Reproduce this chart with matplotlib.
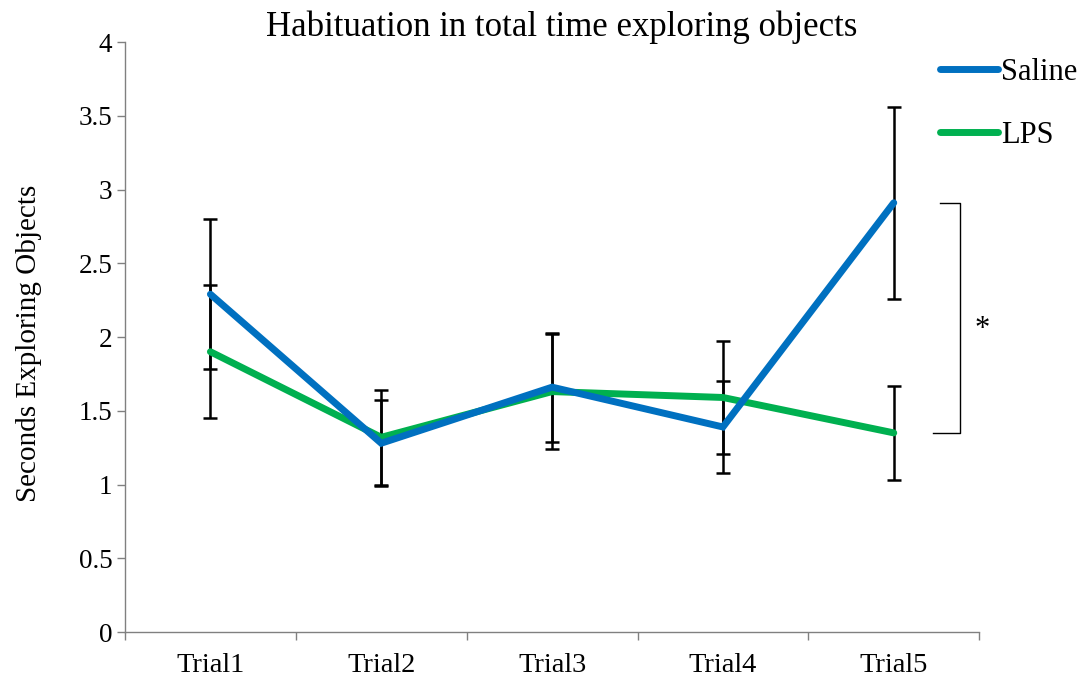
import numpy as np
import matplotlib.pyplot as plt

plt.rcParams['font.family'] = ['Liberation Serif', 'DejaVu Serif']

trials = ['Trial1', 'Trial2', 'Trial3', 'Trial4', 'Trial5']
saline = [2.29, 1.28, 1.66, 1.39, 2.91]
saline_err = [0.51, 0.29, 0.37, 0.31, 0.65]
lps = [1.90, 1.32, 1.63, 1.59, 1.35]
lps_err = [0.45, 0.32, 0.39, 0.38, 0.32]

fig = plt.figure(figsize=(10.84, 6.82), dpi=100)
ax = fig.add_axes([0.1153, 0.0733, 0.788, 0.8651])

x = np.arange(len(trials))

ax.errorbar(x, saline, yerr=saline_err, fmt='none', ecolor='black',
            elinewidth=1.8, capsize=5, capthick=1.8, zorder=1)
ax.errorbar(x, lps, yerr=lps_err, fmt='none', ecolor='black',
            elinewidth=1.8, capsize=5, capthick=1.8, zorder=1)
ax.plot(x, saline, color='#0070c0', lw=5, solid_capstyle='round',
        solid_joinstyle='miter', label='Saline', zorder=3)
ax.plot(x, lps, color='#00b050', lw=5, solid_capstyle='round',
        solid_joinstyle='miter', label='LPS', zorder=2)

# significance bracket between the two Trial5 means
bx = 4.39
ax.plot([4.27, bx, bx, 4.23], [saline[4], saline[4], lps[4], lps[4]],
        color='black', lw=1.0, clip_on=False)
ax.text(4.52, 2.05, '*', fontsize=22, ha='center', va='center')

ax.set_xlim(-0.5, 4.5)
ax.set_ylim(0, 4)
ax.set_yticks(np.arange(0, 4.01, 0.5))
ax.set_yticklabels(['0', '0.5', '1', '1.5', '2', '2.5', '3', '3.5', '4'])
ax.set_xticks(x)
ax.set_xticklabels(trials)
ax.set_xticks(np.arange(-0.5, 4.6, 1), minor=True)
ax.tick_params(axis='x', which='major', length=0, labelsize=20.5, pad=15)
ax.tick_params(axis='x', which='minor', length=6, width=1, color='#808080', direction='out')
ax.tick_params(axis='y', length=6, width=1, color='#808080', labelsize=19.5, pad=3)

for s in ['top', 'right']:
    ax.spines[s].set_visible(False)
for s in ['left', 'bottom']:
    ax.spines[s].set_color('#808080')
    ax.spines[s].set_linewidth(1)

ax.set_ylabel('Seconds Exploring Objects', fontsize=21)
ax.yaxis.set_label_coords(-0.097, 0.49)
fig.text(0.518, 0.96, 'Habituation in total time exploring objects',
         fontsize=25, ha='center', va='center')

ax.legend(loc='upper left', bbox_to_anchor=(0.856, 0.933),
          bbox_transform=fig.transFigure, frameon=False, fontsize=22,
          handlelength=1.9, handletextpad=0.1, labelspacing=1.1,
          borderaxespad=0)

fig.savefig('out.png', dpi=100)
